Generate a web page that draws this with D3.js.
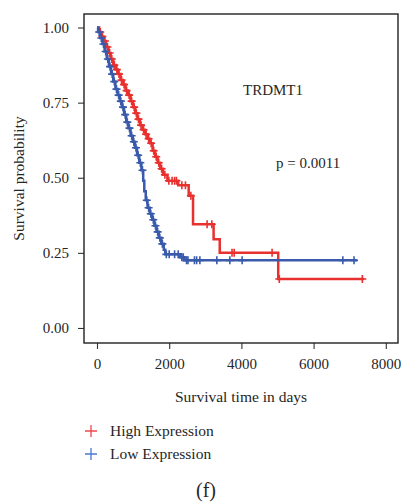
<!DOCTYPE html>
<html>
<head>
<meta charset="utf-8">
<script src="https://cdn.jsdelivr.net/npm/d3@7"></script>
<style>
  body { margin: 0; background: #fff; }
  svg text { font-family: "Liberation Serif", "DejaVu Serif", serif; fill: #262626; }
</style>
</head>
<body>
<div id="chart"></div>
<script>
const width = 402;
const height = 502;

// Kaplan-Meier steps: [time in days, survival after the event]
const highSteps = [
  [60, 0.985], [120, 0.97], [180, 0.955], [250, 0.935], [320, 0.915], [380, 0.895],
  [450, 0.875], [520, 0.86], [580, 0.845], [650, 0.825], [720, 0.81], [790, 0.79],
  [860, 0.775], [930, 0.755], [1000, 0.735], [1060, 0.715], [1120, 0.695], [1190, 0.675],
  [1260, 0.66], [1330, 0.645], [1400, 0.63], [1470, 0.615], [1540, 0.59], [1610, 0.57],
  [1680, 0.55], [1750, 0.53], [1830, 0.51], [1950, 0.49], [2250, 0.475], [2540, 0.44],
  [2660, 0.345], [3230, 0.295], [3400, 0.25], [5020, 0.163]
];
const highEnd = 7400;
const highCensor = [
  90, 150, 220, 290, 350, 410, 480, 550, 610, 680, 750, 820, 890, 960, 1030, 1090,
  1150, 1220, 1290, 1360, 1430, 1500, 1570, 1640, 1710, 1790, 1880, 1990, 2080, 2150,
  2200, 2350, 2450, 2600, 3050, 3180, 3740, 3800, 4850, 5050, 7350
];

const lowSteps = [
  [30, 0.985], [90, 0.965], [150, 0.945], [210, 0.92], [270, 0.895], [330, 0.87],
  [390, 0.845], [450, 0.82], [510, 0.795], [570, 0.775], [630, 0.755], [690, 0.735],
  [750, 0.71], [810, 0.685], [870, 0.665], [930, 0.64], [990, 0.62], [1050, 0.6],
  [1110, 0.575], [1170, 0.55], [1230, 0.525], [1280, 0.49], [1310, 0.455], [1350, 0.425],
  [1400, 0.4], [1460, 0.38], [1530, 0.36], [1590, 0.34], [1650, 0.32], [1710, 0.3],
  [1780, 0.28], [1850, 0.26], [1890, 0.245], [2310, 0.235], [2420, 0.225]
];
const lowEnd = 7200;
const lowCensor = [
  60, 120, 180, 240, 300, 360, 420, 480, 540, 600, 660, 720, 780, 840, 900, 960,
  1020, 1080, 1140, 1200, 1260, 1380, 1430, 1490, 1560, 1620, 1680, 1740, 1810, 1920,
  2000, 2150, 2250, 2350, 2390, 2480, 2520, 2700, 2760, 2850, 3320, 3680, 4020, 6810, 7120
];

const xTicks = [0, 2000, 4000, 6000, 8000];
const yTicks = [0, 0.25, 0.5, 0.75, 1];

const groups = [
  { name: 'High Expression', steps: highSteps, end: highEnd, censor: highCensor, color: '#e8312f', legend: '#f0474a' },
  { name: 'Low Expression', steps: lowSteps, end: lowEnd, censor: lowCensor, color: '#3a5aab', legend: '#4a78cf' }
];

const plot = { left: 84, top: 14, right: 398, bottom: 343 };

const x = d3.scaleLinear().domain([-360, 8338]).range([plot.left, plot.right]);
const y = d3.scaleLinear().domain([-0.05, 1.045]).range([plot.bottom, plot.top]);

const svg = d3.select('#chart')
  .append('svg')
    .attr('width', width)
    .attr('height', height);

// axes
const yAxis = svg.append('g')
  .attr('transform', `translate(${plot.left},0)`)
  .call(d3.axisLeft(y).tickValues(yTicks).tickFormat(d3.format('.2f')).tickSize(6).tickSizeOuter(0).tickPadding(9));

const xAxis = svg.append('g')
  .attr('transform', `translate(0,${plot.bottom})`)
  .call(d3.axisBottom(x).tickValues(xTicks).tickFormat(d3.format('d')).tickSize(6).tickSizeOuter(0).tickPadding(9));

[yAxis, xAxis].forEach(a => {
  a.select('.domain').remove();
  a.selectAll('line').attr('stroke', '#333').attr('stroke-width', 1.1);
  a.selectAll('text').attr('font-size', 15).attr('fill', '#262626')
    .style('font-family', '"Liberation Serif", serif');
});

// frame
svg.append('rect')
  .attr('x', plot.left)
  .attr('y', plot.top)
  .attr('width', plot.right - plot.left)
  .attr('height', plot.bottom - plot.top)
  .attr('fill', 'none')
  .attr('stroke', '#222')
  .attr('stroke-width', 1.4);

function survivalAt(steps, t) {
  let s = 1;
  for (const [time, val] of steps) {
    if (time <= t) s = val;
  }
  return s;
}

const g = svg.append('g');

groups.forEach(grp => {
  // build step path
  const pts = [[0, 1]];
  grp.steps.forEach(([t, s]) => {
    pts.push([t, pts[pts.length - 1][1]]);
    pts.push([t, s]);
  });
  pts.push([grp.end, pts[pts.length - 1][1]]);

  g.append('path')
    .datum(pts)
    .attr('fill', 'none')
    .attr('stroke', grp.color)
    .attr('stroke-width', 2.5)
    .attr('d', d3.line().x(d => x(d[0])).y(d => y(d[1])));

  g.append('g').selectAll('path.censor')
    .data(grp.censor)
    .join('path')
      .attr('class', 'censor')
      .attr('fill', 'none')
      .attr('stroke', grp.color)
      .attr('stroke-width', 1.6)
      .attr('d', t => {
        const cx = x(t);
        const cy = y(survivalAt(grp.steps, t));
        return `M${cx - 4},${cy}H${cx + 4}M${cx},${cy - 4}V${cy + 4}`;
      });
});

// annotations
svg.append('text')
  .attr('x', 243)
  .attr('y', 95)
  .attr('font-size', 15)
  .text('TRDMT1');

svg.append('text')
  .attr('x', 276)
  .attr('y', 168)
  .attr('font-size', 15)
  .text('p = 0.0011');

// axis titles
svg.append('text')
  .attr('x', 241)
  .attr('y', 402)
  .attr('text-anchor', 'middle')
  .attr('font-size', 15.5)
  .text('Survival time in days');

svg.append('text')
  .attr('transform', `translate(24,${(plot.top + plot.bottom) / 2}) rotate(-90)`)
  .attr('text-anchor', 'middle')
  .attr('font-size', 15.5)
  .text('Survival probability');

// legend
const legend = svg.append('g');
groups.forEach((grp, i) => {
  const ly = 431 + i * 23;
  legend.append('path')
    .attr('fill', 'none')
    .attr('stroke', grp.legend)
    .attr('stroke-width', 1.3)
    .attr('d', `M85,${ly}H97M91,${ly - 6}V${ly + 6}`);
  legend.append('text')
    .attr('x', 110)
    .attr('y', ly + 5)
    .attr('font-size', 15.5)
    .text(grp.name);
});

svg.append('text')
  .attr('x', 206)
  .attr('y', 497)
  .attr('text-anchor', 'middle')
  .attr('font-size', 20)
  .text('(f)');
</script>
</body>
</html>
